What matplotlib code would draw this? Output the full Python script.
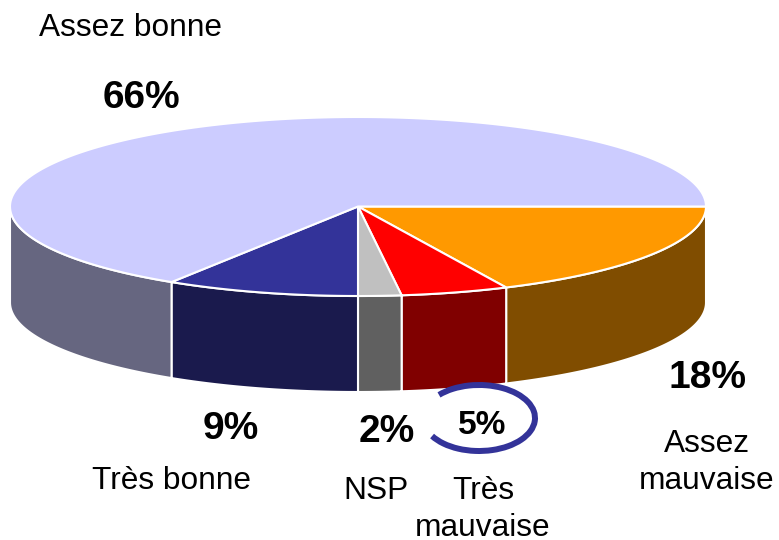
import numpy as np
import matplotlib
matplotlib.use("Agg")
import matplotlib.pyplot as plt
from matplotlib.patches import Polygon, Arc

labels = ["Assez mauvaise", "Très mauvaise", "NSP", "Très bonne", "Assez bonne"]
values = [18, 5, 2, 9, 66]
top_colors = ["#FF9900", "#FF0000", "#C0C0C0", "#333399", "#CCCCFF"]
side_colors = ["#804D00", "#800000", "#606060", "#1A1A4D", "#666680"]

plt.rcParams["font.family"] = ["Liberation Sans", "DejaVu Sans"]

fig = plt.figure(figsize=(7.79, 5.40), dpi=100)
ax = fig.add_axes([0, 0, 1, 1])
ax.set_xlim(0, 779)
ax.set_ylim(540, 0)
ax.axis("off")

cx, cy = 358, 206.5
rx, ry = 348, 89.5
depth = 96


def rim(a0, a1):
    t = np.radians(np.linspace(a0, a1, 200))
    return cx + rx * np.cos(t), cy + ry * np.sin(t)


angles = np.cumsum([0] + values) * 3.6

# side walls first, only the front half shows
for i in range(len(values)):
    a0, a1 = angles[i], min(angles[i + 1], 180)
    if a0 >= 180:
        continue
    x, y = rim(a0, a1)
    pts = np.vstack([np.c_[x, y], np.c_[x[::-1], y[::-1] + depth]])
    ax.add_patch(Polygon(pts, fc=side_colors[i], ec="white", lw=1.5, zorder=2))

# top of the pie
for i in range(len(values)):
    x, y = rim(angles[i], angles[i + 1])
    pts = np.vstack([[cx, cy], np.c_[x, y]])
    ax.add_patch(Polygon(pts, fc=top_colors[i], ec="white", lw=1.5, zorder=3))

fs = 22.8
big = 28
ax.text(39, 28, "Assez bonne", fontsize=fs, va="center", ha="left")
ax.text(141, 98, "66%", fontsize=big, fontweight="bold", va="center", ha="center")
ax.text(708, 378, "18%", fontsize=big, fontweight="bold", va="center", ha="center")
ax.text(707, 444, "Assez", fontsize=fs, va="center", ha="center")
ax.text(707, 481, "mauvaise", fontsize=fs, va="center", ha="center")
ax.text(231, 429, "9%", fontsize=big, fontweight="bold", va="center", ha="center")
ax.text(172, 481, "Très bonne", fontsize=fs, va="center", ha="center")
ax.text(387, 432, "2%", fontsize=big, fontweight="bold", va="center", ha="center")
ax.text(376, 491, "NSP", fontsize=fs, va="center", ha="center")
ax.text(482, 425, "5%", fontsize=24, fontweight="bold", va="center", ha="center")
ax.text(483, 491, "Très", fontsize=fs, va="center", ha="center")
ax.text(483, 528, "mauvaise", fontsize=fs, va="center", ha="center")

# hand drawn ring round the 5%
ax.add_patch(Arc((479, 418), 112, 66, angle=0, theta1=210, theta2=519, ec="#333399", lw=4.3, zorder=4))

fig.savefig("out.png", dpi=100, facecolor="white")
